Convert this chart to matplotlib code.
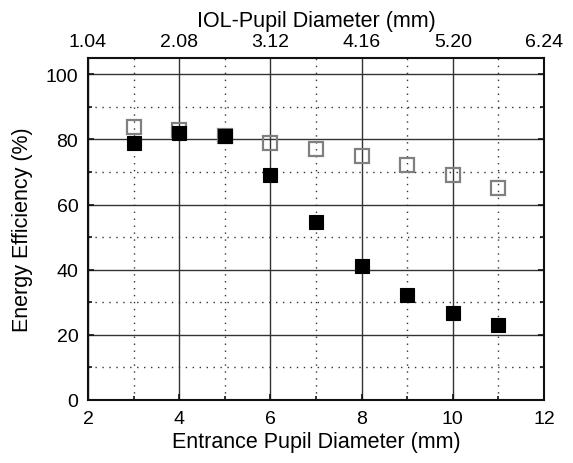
import matplotlib
matplotlib.use("Agg")
import matplotlib.pyplot as plt
from matplotlib.ticker import MultipleLocator, FixedLocator

plt.rcParams['font.family'] = ['Liberation Sans', 'DejaVu Sans']

entrance = [3, 4, 5, 6, 7, 8, 9, 10, 11]
filled_vals = [79.0, 82.1, 80.9, 69.2, 54.5, 41.1, 32.2, 26.6, 23.1]
open_vals = [83.7, 82.9, 81.0, 79.0, 77.2, 74.8, 72.1, 69.0, 65.0]
top_positions = [2, 4, 6, 8, 10, 12]
top_labels = ["1.04", "2.08", "3.12", "4.16", "5.20", "6.24"]

fig = plt.figure(figsize=(5.73, 4.64), dpi=100)
ax = fig.add_axes([88/573, 1-401/464, (544-88)/573, (401-59)/464])

ax.set_xlim(2, 12)
ax.set_ylim(0, 105)
ax.xaxis.set_major_locator(MultipleLocator(2))
ax.xaxis.set_minor_locator(MultipleLocator(1))
ax.yaxis.set_major_locator(FixedLocator([0, 20, 40, 60, 80, 100]))
ax.yaxis.set_minor_locator(FixedLocator([10, 30, 50, 70, 90]))

ax.grid(which='major', color='#333333', linestyle='-', linewidth=1.0)
ax.grid(which='minor', color='#333333', linestyle=(0, (1, 4)), linewidth=1.0)
ax.set_axisbelow(True)

ax.plot(entrance, open_vals, linestyle='none', marker='s', markersize=10.3,
        markerfacecolor='none', markeredgecolor='#808080', markeredgewidth=1.6, zorder=3)
ax.plot(entrance, filled_vals, linestyle='none', marker='s', markersize=9.5,
        markerfacecolor='black', markeredgecolor='black', markeredgewidth=0.8, zorder=4)

for s in ax.spines.values():
    s.set_linewidth(1.5)
    s.set_color('#111111')

ax.tick_params(which='both', direction='in', top=True, right=True, labelsize=14,
               color='#111111', pad=7)
ax.tick_params(which='major', length=4, width=1.2)
ax.tick_params(which='minor', length=3, width=1.2)
ax.set_xlabel('Entrance Pupil Diameter (mm)', fontsize=15.5, labelpad=3)
ax.set_ylabel('Energy Efficiency (%)', fontsize=15.5, labelpad=9)

ax2 = ax.twiny()
ax2.set_xlim(ax.get_xlim())
ax2.set_xticks(top_positions)
ax2.set_xticklabels(top_labels)
ax2.xaxis.set_minor_locator(MultipleLocator(1))
ax2.tick_params(which='both', direction='in', labelsize=14, length=0, pad=6)
ax2.set_xlabel('IOL-Pupil Diameter (mm)', fontsize=15.5, labelpad=5)
for s in ax2.spines.values():
    s.set_visible(False)

fig.savefig('out.png', dpi=100)
